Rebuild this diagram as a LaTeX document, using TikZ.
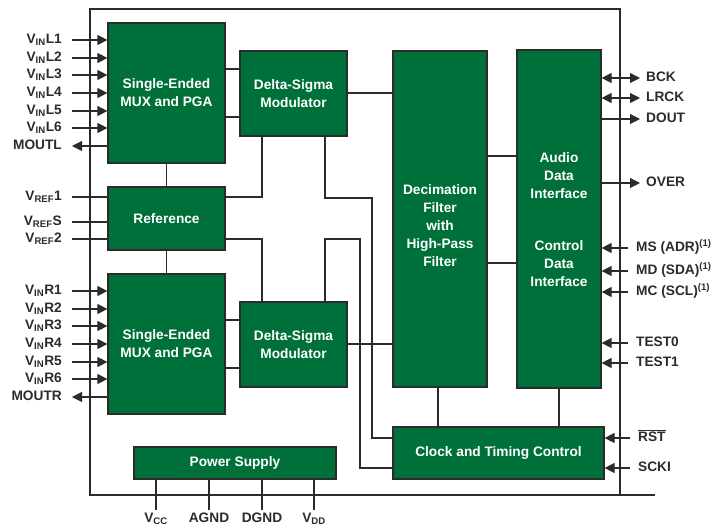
\documentclass[tikz,border=0pt]{standalone}
\usepackage{fontspec}
\setmainfont{Liberation Sans}
\usepackage{xcolor}
\usepackage{tikz}
\usetikzlibrary{arrows.meta,positioning,calc}
\definecolor{tigreen}{HTML}{00703A}
\definecolor{tiline}{HTML}{2B2B2B}

\begin{document}
\begin{tikzpicture}[
    x=1pt, y=-1pt,
    wire/.style={draw=tiline, line width=1.1pt},
    box/.style={rectangle, draw=tiline, fill=tigreen, line width=1.2pt, inner sep=0pt, align=center, text=white, font=\bfseries\fontsize{13.7}{18}\selectfont},
    boxtext/.style={align=center, text=white, inner sep=0pt, font=\bfseries\fontsize{13.7}{18}\selectfont},
    pin/.style={inner ysep=0pt, text height=9pt, text depth=2pt, text=tiline, font=\bfseries\fontsize{13.7}{18}\selectfont},
    pinl/.style={pin, anchor=east, inner xsep=10pt},
    pinout/.style={pin, anchor=west, inner xsep=6pt},
    pinin/.style={pin, anchor=west, inner xsep=8pt},
    pinb/.style={pin, inner ysep=3pt},
    arr/.style={wire, -{Triangle[length=10pt,width=10pt]}},
    dblarr/.style={wire, {Triangle[length=10pt,width=10pt]}-{Triangle[length=10pt,width=10pt]}},
]
    \useasboundingbox (0,0) rectangle (724,529);

    % Device outline
    \draw[wire] (655,495) -- (90,495) -- (90,9) -- (620,9) -- (620,495);

    % Left channel
    \node[box, minimum width=117pt, minimum height=140pt] (muxL) at (166.5,93) {Single-Ended\\MUX and PGA};
    \node[box, minimum width=107pt, minimum height=85pt] (dsL) at (293.5,93.5) {Delta-Sigma\\Modulator};

    % Reference
    \node[box, minimum width=117pt, minimum height=63pt] (ref) at (166.5,218.5) {Reference};

    % Right channel
    \node[box, minimum width=117pt, minimum height=140pt] (muxR) at (166.5,344) {Single-Ended\\MUX and PGA};
    \node[box, minimum width=107pt, minimum height=85pt] (dsR) at (293.5,344.5) {Delta-Sigma\\Modulator};

    % Decimation filter
    \node[box, minimum width=94pt, minimum height=336pt] (dec) at (440,219) {};
    \node[boxtext] at ([yshift=-7pt]dec.center) {Decimation\\Filter\\with\\High-Pass\\Filter};

    % Interfaces
    \node[box, minimum width=84pt, minimum height=338pt] (intf) at (559,219) {};
    \node[boxtext] (audio) at (559,176) {Audio\\Data\\Interface};
    \node[boxtext] (control) at (559,264) {Control\\Data\\Interface};

    % Clock and power
    \node[box, minimum width=211pt, minimum height=52pt] (clk) at (498.5,453) {Clock and Timing Control};
    \node[box, minimum width=202pt, minimum height=32pt] (pwr) at (235,463) {Power Supply};

    % Inner connections
    \draw[wire] (muxL.east |- 0,69) -- (dsL.west |- 0,69);
    \draw[wire] (muxL.east |- 0,117) -- (dsL.west |- 0,117);
    \draw[wire] (muxR.east |- 0,320) -- (dsR.west |- 0,320);
    \draw[wire] (muxR.east |- 0,368) -- (dsR.west |- 0,368);
    \draw[wire] (muxL) -- (ref);
    \draw[wire] (ref) -- (muxR);
    \draw[wire] (ref.east |- 0,197) -| (dsL.south -| 262,0);
    \draw[wire] (ref.east |- 0,239) -| (dsR.north -| 262,0);
    \draw[wire] (dsL.south -| 325,0) |- (372,198) |- (clk.west |- 0,438);
    \draw[wire] (dsR.north -| 325,0) |- (360,239) |- (clk.west |- 0,468);
    \draw[wire] (dsL.east |- 0,93) -- (dec.west |- 0,93);
    \draw[wire] (dsR.east |- 0,344) -- (dec.west |- 0,344);
    \draw[wire] (dec.east |- 0,156) -- (intf.west |- 0,156);
    \draw[wire] (dec.east |- 0,263) -- (intf.west |- 0,263);
    \draw[wire] (dec.south -| 438,0) -- (clk.north -| 438,0);
    \draw[wire] (intf.south) -- (intf.south |- clk.north);

    % Left pins
    \node[pinl] (inl1) at (72,40) {V\textsubscript{IN}L1};
    \node[pinl] (inl2) at (72,58) {V\textsubscript{IN}L2};
    \node[pinl] (inl3) at (72,75) {V\textsubscript{IN}L3};
    \node[pinl] (inl4) at (72,93) {V\textsubscript{IN}L4};
    \node[pinl] (inl5) at (72,111) {V\textsubscript{IN}L5};
    \node[pinl] (inl6) at (72,128) {V\textsubscript{IN}L6};
    \node[pinl] (moutl) at (72,146) {MOUTL};
    \node[pinl] (vref1) at (72,197) {V\textsubscript{REF}1};
    \node[pinl] (vrefs) at (72,222) {V\textsubscript{REF}S};
    \node[pinl] (vref2) at (72,239) {V\textsubscript{REF}2};
    \node[pinl] (inr1) at (72,291) {V\textsubscript{IN}R1};
    \node[pinl] (inr2) at (72,309) {V\textsubscript{IN}R2};
    \node[pinl] (inr3) at (72,326) {V\textsubscript{IN}R3};
    \node[pinl] (inr4) at (72,344) {V\textsubscript{IN}R4};
    \node[pinl] (inr5) at (72,362) {V\textsubscript{IN}R5};
    \node[pinl] (inr6) at (72,379) {V\textsubscript{IN}R6};
    \node[pinl] (moutr) at (72,397) {MOUTR};

    \draw[arr] (inl1) -- (inl1 -| muxL.west);
    \draw[arr] (inl2) -- (inl2 -| muxL.west);
    \draw[arr] (inl3) -- (inl3 -| muxL.west);
    \draw[arr] (inl4) -- (inl4 -| muxL.west);
    \draw[arr] (inl5) -- (inl5 -| muxL.west);
    \draw[arr] (inl6) -- (inl6 -| muxL.west);
    \draw[arr] (moutl -| muxL.west) -- (moutl);
    \draw[wire] (vref1) -- (vref1 -| ref.west);
    \draw[wire] (vrefs) -- (vrefs -| ref.west);
    \draw[wire] (vref2) -- (vref2 -| ref.west);
    \draw[arr] (inr1) -- (inr1 -| muxR.west);
    \draw[arr] (inr2) -- (inr2 -| muxR.west);
    \draw[arr] (inr3) -- (inr3 -| muxR.west);
    \draw[arr] (inr4) -- (inr4 -| muxR.west);
    \draw[arr] (inr5) -- (inr5 -| muxR.west);
    \draw[arr] (inr6) -- (inr6 -| muxR.west);
    \draw[arr] (moutr -| muxR.west) -- (moutr);

    % Right pins
    \node[pinout] (bck) at (640,78) {BCK};
    \node[pinout] (lrck) at (640,98) {LRCK};
    \node[pinout] (dout) at (640,119) {DOUT};
    \node[pinout] (over) at (640,183) {OVER};
    \node[pinin] (ms) at (628,248) {MS (ADR)\textsuperscript{(1)}};
    \node[pinin] (md) at (628,271) {MD (SDA)\textsuperscript{(1)}};
    \node[pinin] (mc) at (628,292) {MC (SCL)\textsuperscript{(1)}};
    \node[pinin] (test0) at (628,343) {TEST0};
    \node[pinin] (test1) at (628,363) {TEST1};
    \node[pinin] (rst) at (630,438) {$\overline{\mbox{RST}}$};
    \node[pinin] (scki) at (630,468) {SCKI};

    \draw[dblarr] (bck -| intf.east) -- (bck);
    \draw[dblarr] (lrck -| intf.east) -- (lrck);
    \draw[arr] (dout -| intf.east) -- (dout);
    \draw[arr] (over -| intf.east) -- (over);
    \draw[arr] (ms) -- (ms -| intf.east);
    \draw[arr] (md) -- (md -| intf.east);
    \draw[arr] (mc) -- (mc -| intf.east);
    \draw[arr] (test0) -- (test0 -| intf.east);
    \draw[arr] (test1) -- (test1 -| intf.east);
    \draw[arr] (rst) -- (rst -| clk.east);
    \draw[arr] (scki) -- (scki -| clk.east);

    % Supply pins
    \node[pinb] (vcc) at (156,519) {V\textsubscript{CC}};
    \node[pinb] (agnd) at (209,519) {AGND};
    \node[pinb] (dgnd) at (262,519) {DGND};
    \node[pinb] (vdd) at (314,519) {V\textsubscript{DD}};
    \draw[wire] (pwr.south -| vcc) -- (vcc);
    \draw[wire] (pwr.south -| agnd) -- (agnd);
    \draw[wire] (pwr.south -| dgnd) -- (dgnd);
    \draw[wire] (pwr.south -| vdd) -- (vdd);
\end{tikzpicture}
\end{document}
